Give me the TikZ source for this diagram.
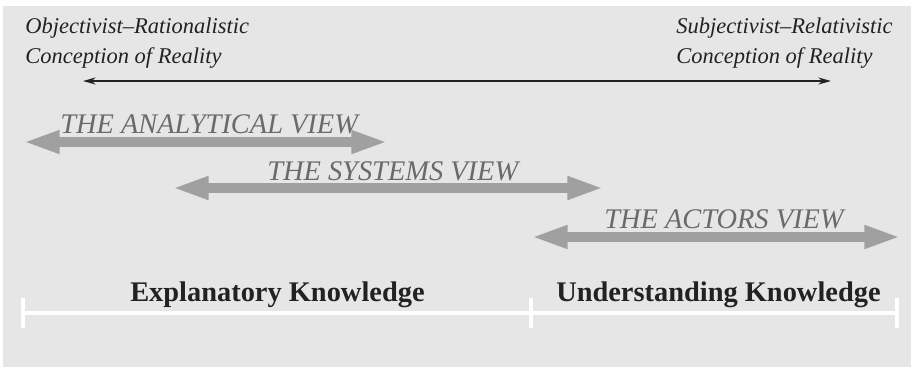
\documentclass[tikz,border=0pt]{standalone}
\usepackage{fontspec}
\setmainfont{Liberation Serif}
\usetikzlibrary{arrows.meta}
\definecolor{bggray}{HTML}{E6E6E6}
\definecolor{viewgray}{HTML}{A0A0A0}
\definecolor{viewtext}{HTML}{6A6A6A}
\definecolor{inktext}{HTML}{222222}
\tikzset{
  pole/.style={anchor=base west, inner sep=0pt, text=inktext, font=\fontsize{16}{19}\itshape\selectfont},
  viewlabel/.style={anchor=base west, inner sep=0pt, text=viewtext, font=\fontsize{20.2}{24}\itshape\selectfont},
  knowlabel/.style={anchor=base west, inner sep=0pt, text=inktext, font=\fontsize{20.2}{24}\bfseries\selectfont},
  viewarrow/.style={draw=viewgray, line width=7pt, {Triangle[width=15pt,length=26pt]}-{Triangle[width=15pt,length=26pt]}},
  scalebar/.style={draw=white, line width=3.5pt}
}
\begin{document}
\begin{tikzpicture}[x=0.025cm, y=-0.025cm]
    % Fond
    \useasboundingbox (0,0) rectangle (914,370);
    \fill[bggray] (3,6) rectangle (911,367);
    % Conceptions de la realite
    \node[pole] (obj1) at (25,33) {Objectivist--Rationalistic};
    \node[pole] (obj2) at (25,63) {Conception of Reality};
    \node[pole] (sub1) at (676,33) {Subjectivist--Relativistic};
    \node[pole] (sub2) at (676,63) {Conception of Reality};
    \coordinate (realL) at (83,81);
    \coordinate (realR) at (831,81);
    \draw[inktext, line width=1.2pt, {Stealth[length=9pt,width=5pt]}-{Stealth[length=9pt,width=5pt]}] (realL) -- (realR);
    % Les trois vues
    \node[viewlabel] (analytical) at (60,133) {THE ANALYTICAL VIEW};
    \coordinate (anaL) at (23,142);
    \coordinate (anaR) at (388,142);
    \draw[viewarrow] (anaL) -- (anaR);
    \node[viewlabel] (systems) at (267,180) {THE SYSTEMS VIEW};
    \coordinate (sysL) at (172,188);
    \coordinate (sysR) at (604,188);
    \draw[viewarrow] (sysL) -- (sysR);
    \node[viewlabel] (actors) at (604,228) {THE ACTORS VIEW};
    \coordinate (actL) at (531,237);
    \coordinate (actR) at (901,237);
    \draw[viewarrow] (actL) -- (actR);
    % Types de connaissance
    \node[knowlabel] (explanatory) at (130,301) {Explanatory Knowledge};
    \node[knowlabel] (understanding) at (556,301) {Understanding Knowledge};
    \coordinate (barL) at (23,313);
    \coordinate (barM) at (531,313);
    \coordinate (barR) at (897,313);
    \draw[scalebar] (barL) -- (barR);
    \foreach \t in {barL,barM,barR}
        \draw[scalebar] ([yshift=15*0.025cm]\t) -- ([yshift=-15*0.025cm]\t);
\end{tikzpicture}
\end{document}
